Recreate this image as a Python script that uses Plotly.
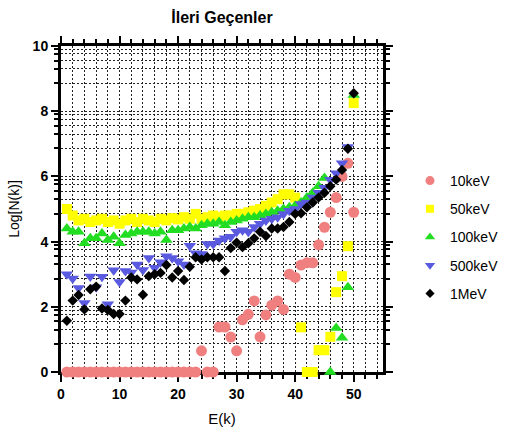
import plotly.graph_objects as go

E = list(range(1, 51))

kev10 = [0]*23 + [0.65, 0, 0, 1.38, 1.38, 1.07, 0.65, 1.6, 1.77, 2.18, 1.08, 1.75, 2.05, 2.18, 1.92,
                  3.0, 2.9, 3.28, 3.35, 3.35, 3.9, 4.44, 4.9, 5.35, 6.0, 6.4, 4.9]

kev50 = [5.0, 4.8, 4.65, 4.7, 4.6, 4.65, 4.7, 4.6, 4.65, 4.55,
         4.65, 4.7, 4.6, 4.7, 4.65, 4.6, 4.7, 4.65, 4.72, 4.68,
         4.75, 4.7, 4.85, 4.7, 4.75, 4.8, 4.75, 4.8, 4.8, 4.85,
         4.85, 4.9, 4.95, 5.0, 5.1, 5.2, 5.3, 5.45, 5.45, 5.35,
         1.37, 0, 0, 0.67, 0.67, 1.08, 2.45, 2.94, 3.86, 8.25]

kev100 = [4.4, 4.3, 4.3, 3.95, 4.1, 4.1, 4.25, 4.05, 4.15, 3.95,
          4.2, 4.25, 4.3, 4.3, 4.3, 4.25, 4.3, 4.05, 4.35, 4.35,
          4.4, 4.45, 4.4, 4.5, 4.55, 4.55, 4.6, 4.5, 4.6, 4.65,
          4.7, 4.75, 4.75, 4.8, 4.85, 4.9, 4.95, 5.0, 5.05, 5.1,
          5.2, 5.35, 5.5, 5.7, 5.95, 0, 1.35, 1.05, 2.6, 8.5]

kev500 = [3.0, 2.87, 2.58, 2.12, 2.93, 2.6, 2.92, 2.08, 3.12, 2.76,
          3.1, 3.05, 3.3, 3.13, 3.5, 3.2, 3.37, 3.55, 3.5, 3.4,
          3.3, 3.87, 3.64, 3.62, 3.93, 3.93, 4.03, 4.1, 4.15, 4.3,
          4.35, 4.3, 4.45, 4.55, 4.65, 4.7, 4.75, 4.85, 4.95, 5.0,
          5.15, 5.2, 5.35, 5.5, 5.65, 5.9, 6.1, 6.4, 6.9, None]

mev1 = [1.57, 2.19, 2.36, 1.92, 2.54, 2.62, 1.95, 1.9, 1.78, 1.78,
        2.19, 2.9, 2.84, 2.37, 2.94, 3.0, 3.04, 3.28, 2.9, 3.1,
        2.82, 3.23, 3.52, 3.45, 3.52, 3.52, 3.52, 3.1, 3.8, 3.97,
        3.83, 3.95, 4.1, 4.3, 4.17, 4.4, 4.4, 4.45, 4.6, 4.85,
        4.87, 5.05, 5.2, 5.35, 5.5, 5.7, 5.9, 6.2, 6.85, 8.55]

names = ["10keV", "50keV", "100keV", "500keV", "1MeV"]
series = [kev10, kev50, kev100, kev500, mev1]
colors = ["#F08080", "#FFFF00", "#22DD22", "#5A5AE0", "#000000"]
symbols = ["circle", "square", "triangle-up", "triangle-down", "diamond"]
sizes = [11, 10, 11, 11, 8]
legend_sizes = [9, 8, 9, 9, 7]

minor_offsets = [0.86, 1.3, 1.55, 1.76, 1.9]
y_minor = [b + o for b in range(0, 10, 2) for o in minor_offsets]

FONT = "Arial, Liberation Sans, sans-serif"

fig = go.Figure()
for n, s, c, sym, sz in zip(names, series, colors, symbols, sizes):
    fig.add_trace(go.Scatter(
        x=E, y=s, mode="markers", name=n, showlegend=False,
        marker=dict(color=c, symbol=sym, size=sz, line=dict(width=0)),
        cliponaxis=False,
    ))
for n, c, sym, sz in zip(names, colors, symbols, legend_sizes):
    fig.add_trace(go.Scatter(
        x=[None], y=[None], mode="markers", name=n, legendgroup=n,
        marker=dict(color=c, symbol=sym, size=sz, line=dict(width=0)),
    ))

grid_dash = "2px,2px"
L, R_EDGE, T, B = 61, 383, 46, 372
W, H = 510, 437
fig.update_layout(
    width=W, height=H,
    margin=dict(l=L, r=8, t=T, b=H - B, autoexpand=False),
    paper_bgcolor="white", plot_bgcolor="white",
    font=dict(family=FONT, color="black"),
    title=dict(text="<b>İleri Geçenler</b>", x=(L + R_EDGE) / 2 / W, xanchor="center",
               y=1 - 17 / H, yanchor="middle", font=dict(size=16)),
    legend=dict(x=(410 - L) / (W - 8 - L), y=(B - 165) / (B - T), xanchor="left", yanchor="top",
                font=dict(size=14), tracegroupgap=7, itemwidth=30, bgcolor="rgba(0,0,0,0)"),
    showlegend=True,
)
fig.update_xaxes(
    domain=[0, (R_EDGE - L) / (W - 8 - L)],
    range=[0, 55], tickmode="linear", tick0=0, dtick=10,
    ticks="outside", ticklen=7, tickwidth=2, tickcolor="black",
    showline=True, linewidth=3, linecolor="black", mirror="ticks",
    showgrid=True, gridcolor="#222", gridwidth=1, griddash=grid_dash,
    zeroline=False, layer="below traces",
    tickfont=dict(size=14, family=FONT, weight="bold"),
    title=dict(text="E(k)", font=dict(size=15), standoff=13),
    minor=dict(tickmode="linear", tick0=0, dtick=2, ticks="outside", ticklen=4,
               tickwidth=2, tickcolor="black", showgrid=True, gridcolor="#222",
               gridwidth=1, griddash=grid_dash),
)
fig.update_yaxes(
    range=[0, 10], tickmode="linear", tick0=0, dtick=2,
    ticks="outside", ticklen=7, tickwidth=2, tickcolor="black",
    showline=True, linewidth=3, linecolor="black", mirror="ticks",
    showgrid=True, gridcolor="#222", gridwidth=1, griddash=grid_dash,
    zeroline=False, layer="below traces",
    tickfont=dict(size=14, family=FONT, weight="bold"),
    title=dict(text="Log[N(k)]", font=dict(size=14), standoff=10),
    minor=dict(tickmode="array", tickvals=y_minor, ticks="outside", ticklen=4,
               tickwidth=2, tickcolor="black", showgrid=True, gridcolor="#222",
               gridwidth=1, griddash=grid_dash),
)

fig.write_html("out.html")
